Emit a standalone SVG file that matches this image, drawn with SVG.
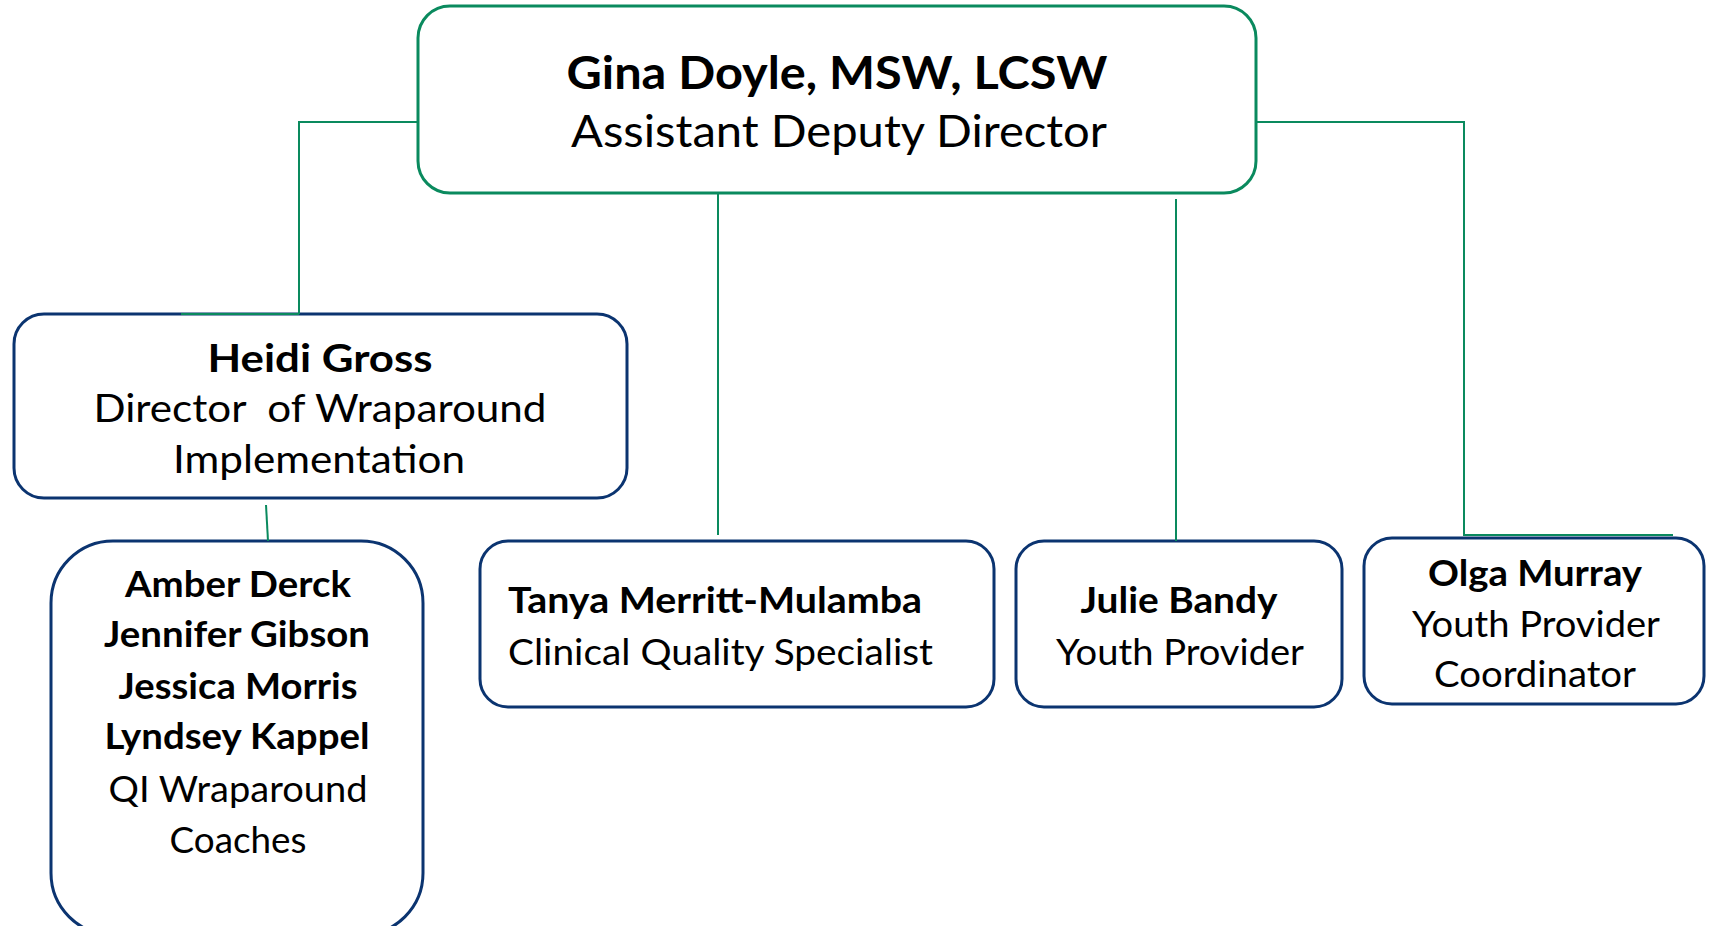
<svg xmlns="http://www.w3.org/2000/svg" width="1717" height="926" viewBox="0 0 1717 926">
<style>
.box{fill:#ffffff;stroke:#0b3470;stroke-width:3}
.top{fill:#ffffff;stroke:#0a8a5e;stroke-width:3}
.con{fill:none;stroke:#0a8a5e;stroke-width:2}
text{font-family:Lato,"Open Sans","Liberation Sans",sans-serif;fill:#000000}
.b{font-weight:bold}
.c{text-anchor:middle}
.s45{font-size:45px}
.s39{font-size:39px}
.s36{font-size:36px}
</style>
<rect width="1717" height="926" fill="#ffffff"/>
<g id="gina">
<rect class="top" x="418" y="6" width="838" height="187" rx="32"/>
<text class="b c s45" x="837" y="89" textLength="541" lengthAdjust="spacingAndGlyphs">Gina Doyle, MSW, LCSW</text>
<text class="c s45" x="839" y="147" textLength="536" lengthAdjust="spacingAndGlyphs">Assistant Deputy Director</text>
</g>
<g id="heidi">
<rect class="box" x="14" y="314" width="613" height="184" rx="30"/>
<text class="b c s39" x="320" y="372" textLength="225" lengthAdjust="spacingAndGlyphs">Heidi Gross</text>
<text class="c s39" x="320" y="422" textLength="453" lengthAdjust="spacingAndGlyphs" xml:space="preserve">Director  of Wraparound</text>
<text class="c s39" x="319" y="473" textLength="292" lengthAdjust="spacingAndGlyphs">Implementation</text>
</g>
<g id="coaches">
<rect class="box" x="51" y="541" width="372" height="394" rx="62"/>
<text class="b c s36" x="238" y="597" textLength="226" lengthAdjust="spacingAndGlyphs">Amber Derck</text>
<text class="b c s36" x="237" y="647" textLength="266" lengthAdjust="spacingAndGlyphs">Jennifer Gibson</text>
<text class="b c s36" x="238" y="699" textLength="239" lengthAdjust="spacingAndGlyphs">Jessica Morris</text>
<text class="b c s36" x="237" y="749" textLength="265" lengthAdjust="spacingAndGlyphs">Lyndsey Kappel</text>
<text class="c s36" x="238" y="802" textLength="259" lengthAdjust="spacingAndGlyphs">QI Wraparound</text>
<text class="c s36" x="238" y="853" textLength="137" lengthAdjust="spacingAndGlyphs">Coaches</text>
</g>
<g id="tanya">
<rect class="box" x="480" y="541" width="514" height="166" rx="28"/>
<text class="b s36" x="508" y="613" textLength="414" lengthAdjust="spacingAndGlyphs">Tanya Merritt-Mulamba</text>
<text class="s36" x="508" y="665" textLength="425" lengthAdjust="spacingAndGlyphs">Clinical Quality Specialist</text>
</g>
<g id="julie">
<rect class="box" x="1016" y="541" width="326" height="166" rx="28"/>
<text class="b c s36" x="1179" y="613" textLength="197" lengthAdjust="spacingAndGlyphs">Julie Bandy</text>
<text class="c s36" x="1180" y="665" textLength="248" lengthAdjust="spacingAndGlyphs">Youth Provider</text>
</g>
<g id="olga">
<rect class="box" x="1364" y="538" width="340" height="166" rx="28"/>
<text class="b c s36" x="1535" y="586" textLength="214" lengthAdjust="spacingAndGlyphs">Olga Murray</text>
<text class="c s36" x="1536" y="637" textLength="248" lengthAdjust="spacingAndGlyphs">Youth Provider</text>
<text class="c s36" x="1535" y="687" textLength="202" lengthAdjust="spacingAndGlyphs">Coordinator</text>
</g>
<g id="connectors">
<path class="con" d="M418,122 H299 V314"/>
<path class="con" d="M181,314 H299" stroke-width="3"/>
<path class="con" d="M718,193 V535"/>
<path class="con" d="M1176,199 V541"/>
<path class="con" d="M1256,122 H1464 V535 H1673"/>
<path class="con" d="M266,505 L268,541"/>
</g>
</svg>
